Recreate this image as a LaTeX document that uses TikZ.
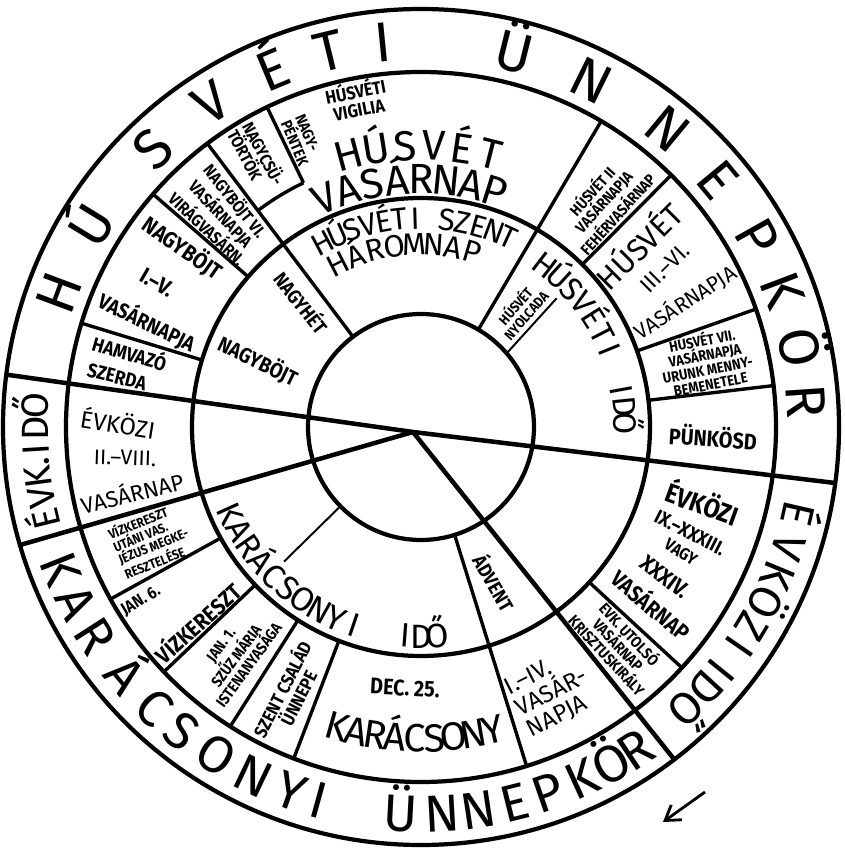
\documentclass[tikz,border=0pt]{standalone}
\usepackage{fontspec}
\setmainfont{Fira Sans}
\newfontfamily\labfont[FakeStretch=0.88]{Fira Sans}
\usetikzlibrary{arrows.meta, calc}

\begin{document}
\begin{tikzpicture}[
    x=0.025cm, y=0.025cm,
    ring/.style={line width=3pt},
    cut/.style={line width=3.2pt},
    sep/.style={line width=2.4pt},
    fine/.style={line width=1.4pt},
    band/.style={font=\fontsize{#1}{#1}\selectfont, anchor=base, inner sep=0pt},
    lab/.style={font=\labfont\bfseries\fontsize{#1}{#1}\selectfont, inner sep=0pt, align=center},
    txt/.style={font=\fontsize{#1}{#1}\selectfont, inner sep=0pt, align=center}
]
\useasboundingbox (-421,-427) rectangle (424,427);

\coordinate (ctr) at (0,0);
\coordinate (hub) at (-8,-5);

% ---- Rings ----
\draw[ring] (ctr) circle[radius=418];
\draw[ring] (ctr) circle[radius=355];
\draw[ring] (ctr) circle[radius=229];
\draw[ring] (ctr) circle[radius=113];

% ---- Main cuts through the hub ----
\foreach \a in {172.8, -7.7, 196.4, -52.7}
    \draw[cut] (hub) -- (\a:418);

% ---- Sector borders ----
\foreach \a/\r/\s in {127/113/355, 59.5/113/355, 287.3/113/355,
                      139/229/355, 163/229/355, 45.2/229/355, 19.4/229/355,
                      6.7/229/355, -42.7/229/355, 249/229/355, 237.5/229/355,
                      223.6/229/355, 209/229/355, 115.7/271/355}
    \draw[sep] (\a:\r) -- (\a:\s);
\draw[sep] (115.7:271) arc[start angle=115.7, end angle=127, radius=271];
\draw[fine] (224.5:113) -- (224.5:192);
\draw[fine] (40.7:113) -- (43.5:187);

% ---- Outer band ----
\foreach \ch/\a in {H/159.6, Ú/148.5, S/134, V/122.9, É/112.6, T/103.7, I/95.6,
                    Ü/76, N/63.8, N/50.4, E/39.7, P/29.4, K/20.8, Ö/11.8, R/3.9}
    \node[band=40, rotate=\a-90] at (\a:367) {\ch};
\foreach \ch/\a in {K/201.6, A/207, R/212.7, Á/220, C/226.5, S/231.8, O/238,
                    N/244.3, Y/250.4, I/254.6, Ü/267, N/273.1, N/278.5, E/284,
                    P/289.1, K/294.5, Ö/299.5, R/303.6}
    \node[band=37, rotate=\a+90] at (\a:405) {\ch};
\foreach \ch/\a in {É/-12.9, V/-18.2, K/-22.6, Ö/-27, Z/-31.1, I/-34.6,
                    I/-39, D/-42.5, Ő/-46.7}
    \node[band=32, rotate=\a-90] at (\a:371) {\ch};
\foreach \ch/\a in {É/193.8, V/190.6, K/187.4, ./185.2, I/183.4, D/180.2, Ő/176.8}
    \node[band=27, rotate=\a-90] at (\a:373) {\ch};

% ---- Inner ring words ----
\foreach \ch/\a in {H/118, Ú/113.6, S/109.2, V/104.8, É/100.4, T/96, I/91.6,
                    S/82.8, Z/78.4, E/74, N/69.6, T/65.2}
    \node[band=22, rotate=\a-90] at (\a:198) {\ch};
\foreach \ch/\a in {H/117, Á/110.8, R/104.6, O/98.4, M/92.2, N/86, A/79.8, P/73.6}
    \node[band=22, rotate=\a-90] at (\a:172) {\ch};
\foreach \ch/\a in {H/52.5, Ú/47.5, S/42.4, V/37.4, É/32.3, T/27.3, I/22.2,
                    I/10.4, D/5.7, Ő/1.1}
    \node[band=23, rotate=\a-90] at (\a:193) {\ch};
\foreach \ch/\a in {K/204.4, A/209.6, R/214.8, Á/220, C/225.2, S/230.4, O/235.6,
                    N/240.8, Y/246, I/251.2, I/265.6, D/270, Ő/274.4}
    \node[band=24, rotate=\a+90] at (\a:221) {\ch};
\node[lab=14, rotate=-52] (nagyhet) at (-119,125) {NAGYHÉT};
\node[lab=15, rotate=-26] (nagybojt) at (-163,66) {NAGYBÖJT};
\node[lab=10, rotate=49] (nyolcada) at (99,117) {HÚSVÉT\\NYOLCADA};
\node[lab=14, rotate=-60] (advent) at (74,-155) {ÁDVENT};

% ---- Easter sectors ----
\foreach \ch/\a in {H/105, Ú/99.1, S/93.3, V/87.4, É/81.6, T/75.7}
    \node[band=30, rotate=\a-90] at (\a:267) {\ch};
\foreach \ch/\a in {V/112.9, A/107.1, S/101.4, Á/95.6, R/89.9, N/84.1, A/78.4, P/72.6}
    \node[band=30, rotate=\a-90] at (\a:233) {\ch};
\node[lab=13, rotate=11] (vigilia) at (-64,328) {HÚSVÉTI\\VIGILIA};
\node[lab=11, rotate=-67, align=left] (pentek) at (-119,287) {NAGY-\\PÉNTEK};
\node[lab=12, rotate=-62, align=left] (csutortok) at (-164,270) {NAGYCSÜ-\\TÖRTÖK};
\node[lab=12, rotate=-51] (virag1) at (-186,226) {NAGYBÖJT VI.};
\node[lab=12, rotate=-47] (virag2) at (-200,213) {VASÁRNAPJA};
\node[lab=12, rotate=-43] (virag3) at (-213,199) {VIRÁGVASÁRN.};
\node[lab=16, rotate=-35] (bojt1) at (-238,179) {NAGYBÖJT};
\node[lab=16, rotate=-30] (bojt2) at (-264,144) {I.–V.};
\node[lab=15, rotate=-26] (bojt3) at (-274,105) {VASÁRNAPJA};
\node[lab=14, rotate=-16] (hamv1) at (-291,75) {HAMVAZÓ};
\node[lab=14, rotate=-14] (hamv2) at (-304,50) {SZERDA};
\node[lab=11, rotate=48] (feher) at (183,225) {HÚSVÉT II\\VASÁRNAPJA\\FEHÉRVASÁRNAP};
\node[txt=22, rotate=45] (hv1) at (217,182) {HÚSVÉT};
\node[txt=16, rotate=45] (hv2) at (244,159) {III.–VI.};
\node[txt=15, rotate=33] (hv3) at (264,125) {VASÁRNAPJA};
\node[lab=10.5, rotate=11] (mennybe) at (285,66) {HÚSVÉT VII.\\VASÁRNAPJA\\URUNK MENNY-\\BEMENETELE};
\node[lab=16, rotate=-4] (punkosd) at (292,-10) {PÜNKÖSD};

% ---- Ordinary time ----
\node[txt=17, rotate=-9] (ev1) at (-303,4) {ÉVKÖZI};
\node[txt=15, rotate=-2] (ev2) at (-296,-31) {II.–VIII.};
\node[txt=16, rotate=14] (ev3) at (-289,-65) {VASÁRNAP};
\node[lab=19, rotate=-20] (evk1) at (282,-75) {ÉVKÖZI};
\node[lab=14, rotate=-27] (evk2) at (269,-106) {IX.–XXXIII.};
\node[lab=12, rotate=-32] (evk3) at (260,-125) {VAGY};
\node[lab=16, rotate=-37] (evk4) at (244,-150) {XXXIV.};
\node[lab=16, rotate=-40] (evk5) at (231,-177) {VASÁRNAP};
\node[lab=11, rotate=-47] (krisztus) at (198,-217) {ÉVK. UTOLSÓ\\VASÁRNAP\\KRISZTUSKIRÁLY};

% ---- Christmas sectors ----
\node[lab=9.5, rotate=22, align=left] (megkeresztel) at (-270,-113) {VÍZKERESZT\\UTÁNI VAS.\\JÉZUS MEGKE-\\RESZTELÉSE};
\node[lab=12, rotate=31] (jan6) at (-280,-174) {JAN. 6.};
\node[lab=16, rotate=42] (vizkereszt) at (-224,-195) {VÍZKERESZT};
\node[lab=11, rotate=54] (jan1) at (-186,-228) {JAN. 1.\\SZŰZ MÁRIA\\ISTENANYASÁGA};
\node[lab=13, rotate=63] (csalad) at (-132,-266) {SZENT CSALÁD\\ÜNNEPE};
\node[lab=16, rotate=-3] (dec) at (-16,-261) {DEC. 25.};
\foreach \ch/\a in {K/254.4, A/258, R/261.6, Á/265.2, C/268.9, S/272.5, O/276.1,
                    N/279.7, Y/283.3}
    \node[band=28, rotate=\a+90] at (\a:325) {\ch};
\node[txt=17, rotate=27, align=left] (adventvas) at (131,-266) {I.–IV.\\VASÁR-\\NAPJA};

% ---- Direction arrow ----
\coordinate (arrowtail) at (284,-365);
\coordinate (arrowtip) at (242,-395);
\draw[line width=2pt, -{Straight Barb[length=10pt, width=13pt]}] (arrowtail) -- (arrowtip);

\end{tikzpicture}
\end{document}
